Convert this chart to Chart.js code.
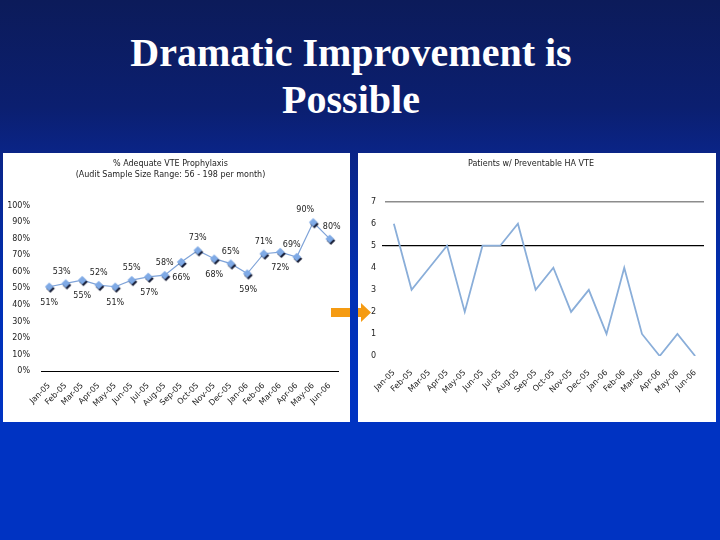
<!DOCTYPE html>
<html>
<head>
<meta charset="utf-8">
<script src="https://cdn.jsdelivr.net/npm/chart.js@4"></script>
<style>
  html, body { margin:0; padding:0; }
  body { width:720px; height:540px; overflow:hidden; position:relative;
    background: linear-gradient(to bottom, #0c1b5a 0%, #0b1f70 20%, #0a2486 28%, #0030b6 55%, #0033c2 75%, #0033c2 100%); }
  #title { position:absolute; left:0; top:29px; width:702px; text-align:center;
    font-family:"Liberation Serif","Times New Roman",serif; font-weight:bold; font-size:40px;
    line-height:47px; color:#fff; }
  .panel { position:absolute; background:#fff; }
  #p1 { left:3px; top:153px; width:347px; height:269px; }
  #p2 { left:358px; top:153px; width:358px; height:269px; }
  #arrow { position:absolute; left:330px; top:302px; }
  #gap { position:absolute; left:350px; top:300px; width:8px; height:30px; background:#0030b6; }
</style>
</head>
<body>
<div id="title">Dramatic Improvement is<br>Possible</div>
<div class="panel" id="p1"><canvas id="c1" width="347" height="269"></canvas></div>
<div class="panel" id="p2"><canvas id="c2" width="358" height="269"></canvas></div>
<svg id="arrow" width="44" height="22" viewBox="0 0 44 22">
  <polygon points="1,6 31,6 31,1 41,10.5 31,20 31,15 1,15" fill="#f59b12"/>
</svg>
<div id="gap"></div>
<script>
const months = ["Jan-05","Feb-05","Mar-05","Apr-05","May-05","Jun-05","Jul-05","Aug-05","Sep-05","Oct-05","Nov-05","Dec-05","Jan-06","Feb-06","Mar-06","Apr-06","May-06","Jun-06"];
const prophylaxisPct = [51,53,55,52,51,55,57,58,66,73,68,65,59,71,72,69,90,80];
const preventableVTE = [6,3,4,5,2,5,5,6,3,4,2,3,1,4,1,0,1,0];
const pctTicks = [0,10,20,30,40,50,60,70,80,90,100];
const vteTicks = [0,1,2,3,4,5,6,7];
const leftTitle = ["% Adequate VTE Prophylaxis","(Audit Sample Size Range: 56 - 198 per month)"];
const rightTitle = "Patients w/ Preventable HA VTE";
const targetLine = 5;

// label placement (style only)
const labelPos = ["below","above","below","above","below","above","below","above","below","above","below","above","below","above","below","above","above","above"];
const labelDx = [0,-4,0,0,0,0,1,0,0,0,0,0,1,0,0,-5,-8,2];

const FONT = "DejaVu Sans";
Chart.defaults.font.family = FONT;
Chart.defaults.font.size = 8;
Chart.defaults.color = "#222";

function diamondImage(){
  const c = document.createElement("canvas");
  c.width = 14; c.height = 14;
  const g = c.getContext("2d");
  const d = (cx, cy, r, col) => { g.beginPath(); g.moveTo(cx, cy-r); g.lineTo(cx+r, cy); g.lineTo(cx, cy+r); g.lineTo(cx-r, cy); g.closePath(); g.fillStyle = col; g.fill(); };
  d(8.2, 8.8, 4.3, "#141a33");
  d(7, 7, 4.3, "#7faae6");
  return c;
}

const labelPlugin = {
  id: "pctLabels",
  afterDatasetsDraw(chart){
    const meta = chart.getDatasetMeta(0);
    const ctx = chart.ctx;
    ctx.save();
    ctx.font = "8px " + FONT;
    ctx.fillStyle = "#222";
    ctx.textAlign = "center";
    ctx.textBaseline = "middle";
    meta.data.forEach((pt, i) => {
      const above = labelPos[i] === "above";
      ctx.fillText(prophylaxisPct[i] + "%", pt.x + labelDx[i], pt.y + (above ? -12 : 16));
    });
    ctx.restore();
  }
};

new Chart(document.getElementById("c1"), {
  type: "line",
  data: { labels: months, datasets: [{
    data: prophylaxisPct, borderColor: "#7fa3d8", borderWidth: 1.2, tension: 0,
    pointStyle: diamondImage(), pointRadius: 5, pointHoverRadius: 5
  }]},
  options: {
    responsive: false, animation: false, devicePixelRatio: 1,
    layout: { padding: { left: 0, right: 12, top: 0, bottom: 0 } },
    plugins: {
      legend: { display: false }, tooltip: { enabled: false },
      title: { display: true, text: leftTitle, font: { size: 8, weight: "normal", lineHeight: 1.3 }, color: "#222", padding: { top: 6, bottom: 26 } }
    },
    scales: {
      x: { offset: true, grid: { display: false }, border: { display: true, color: "#000", width: 1 },
        ticks: { minRotation: 45, maxRotation: 45, autoSkip: false, padding: 2, color: "#222" },
        afterFit(s){ s.height = 51; } },
      y: { min: 0, max: 100, grid: { display: false }, border: { display: false },
        afterBuildTicks(s){ s.ticks = pctTicks.map(v => ({ value: v })); },
        ticks: { callback: v => v + "%", padding: 3, color: "#222" },
        afterFit(s){ s.width = 38; } }
    }
  },
  plugins: [labelPlugin]
});

new Chart(document.getElementById("c2"), {
  type: "line",
  data: { labels: months, datasets: [{
    data: preventableVTE, borderColor: "#8aaed9", borderWidth: 1.8, tension: 0, pointRadius: 0
  }]},
  options: {
    responsive: false, animation: false, devicePixelRatio: 1,
    layout: { padding: { left: 0, right: 12, top: 0, bottom: 0 } },
    plugins: {
      legend: { display: false }, tooltip: { enabled: false },
      title: { display: true, text: rightTitle, font: { size: 8, weight: "normal", lineHeight: 1.2 }, color: "#222", padding: { top: 6, bottom: 33 } }
    },
    scales: {
      x: { offset: true, grid: { display: false }, border: { display: false },
        ticks: { minRotation: 45, maxRotation: 45, autoSkip: false, padding: 4, color: "#222" },
        afterFit(s){ s.height = 66; } },
      y: { min: 0, max: 7, border: { display: false },
        afterBuildTicks(s){ s.ticks = vteTicks.map(v => ({ value: v })); },
        grid: {
          color: c => c.tick.value === 7 ? "#8c8c8c" : (c.tick.value === targetLine ? "#000" : "rgba(0,0,0,0)"),
          lineWidth: c => c.tick.value === 7 ? 1.5 : 1.2,
          tickColor: c => c.tick.value === targetLine ? "#000" : "rgba(0,0,0,0)",
          tickLength: 3
        },
        ticks: { padding: 6, color: "#222" },
        afterFit(s){ s.width = 27; } }
    }
  }
});
</script>
</body>
</html>
